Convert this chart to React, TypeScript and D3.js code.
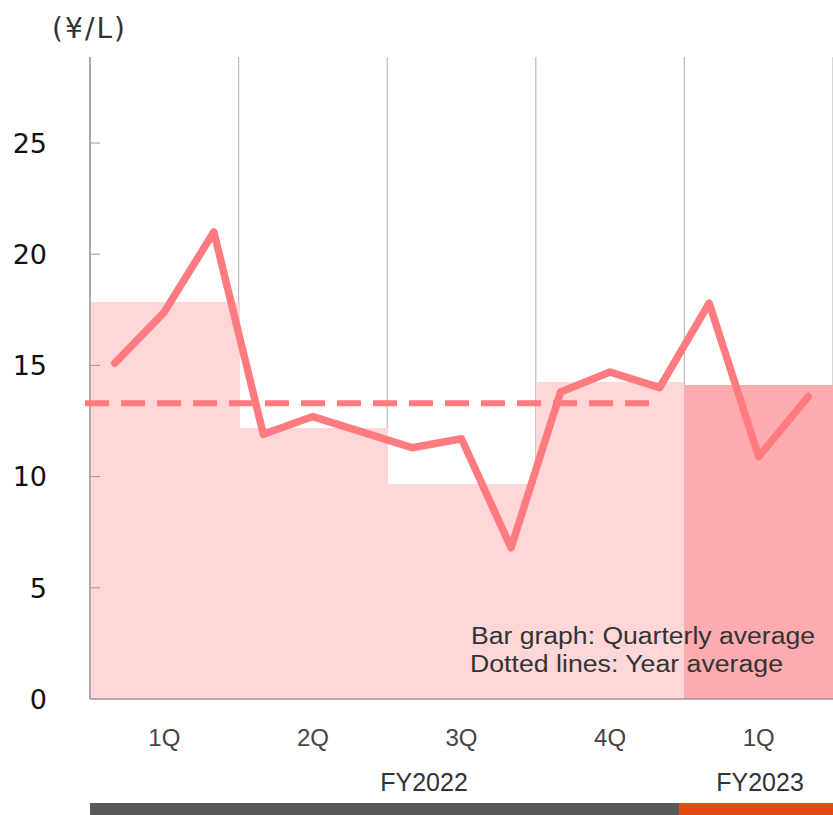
import React from 'react';
import * as d3 from 'd3';

// monthly values, FY2022 Apr .. FY2023 Jun
const monthly = [15.1, 17.4, 21.0, 11.9, 12.7, 12.0, 11.3, 11.7, 6.8, 13.8, 14.7, 14.0, 17.8, 10.9, 13.6];
const quarterLabels = ['1Q', '2Q', '3Q', '4Q', '1Q'];
const quarterAvg = [17.85, 12.2, 9.65, 14.25, 14.1];
const quarterYear = ['FY2022', 'FY2022', 'FY2022', 'FY2022', 'FY2023'];
const yearAvg = 13.3;
const yTicks = [0, 5, 10, 15, 20, 25];

const W = 833;
const H = 815;
const margin = { top: 57, left: 90, right: 0, bottom: 116 };

export default function App() {
  const x = d3.scaleLinear().domain([0, monthly.length]).range([margin.left, W - margin.right]);
  const y = d3.scaleLinear().domain([0, 25]).range([H - margin.bottom, 143]);
  const y0 = y(0);

  const line = d3
    .line<number>()
    .x((_, i) => x(i + 0.5))
    .y((d) => y(d));

  const lineColor = '#ff7b80';

  return (
    <svg width={W} height={H} style={{ position: 'absolute', left: 0, top: 0 }}>
      {/* quarter grid lines */}
      {d3.range(0, 6).map((q) => (
        <line key={'g' + q} x1={x(q * 3)} x2={x(q * 3)} y1={margin.top} y2={y0} stroke="#bbb" strokeWidth={1.2} />
      ))}
      {/* quarterly average bars */}
      {quarterAvg.map((v, q) => (
        <rect
          key={'b' + q}
          x={x(q * 3)}
          y={y(v)}
          width={x(q * 3 + 3) - x(q * 3) + (q < 3 ? 1 : 0)}
          height={y0 - y(v)}
          fill={quarterYear[q] === 'FY2023' ? '#ffacb0' : '#ffd7d9'}
          shapeRendering="crispEdges"
        />
      ))}
      {/* y axis */}
      <line x1={margin.left} x2={margin.left} y1={margin.top} y2={y0} stroke="#999" strokeWidth={1.5} />
      <line x1={margin.left} x2={W} y1={y0} y2={y0} stroke="#999" strokeWidth={1.5} />
      {yTicks.map((t) => (
        <g key={'t' + t}>
          {t > 0 && <line x1={margin.left} x2={margin.left + 10} y1={y(t)} y2={y(t)} stroke="#999" strokeWidth={1} />}
          <text x={47} y={y(t)} dy="0.36em" textAnchor="end" fontFamily="DejaVu Sans, Verdana" fontSize={27} fill="#111">
            {t}
          </text>
        </g>
      ))}
      <text x={52} y={38} fontFamily="DejaVu Sans, Verdana" fontSize={28} fill="#333" textLength={73} lengthAdjust="spacing">
        (¥/L)
      </text>
      {/* year average */}
      <line
        x1={85}
        x2={650}
        y1={y(yearAvg)}
        y2={y(yearAvg)}
        stroke={lineColor}
        strokeWidth={6}
        strokeDasharray="24 12"
      />
      {/* monthly line */}
      <path d={line(monthly) ?? ''} fill="none" stroke={lineColor} strokeWidth={7.5} strokeLinejoin="round" strokeLinecap="round" />
      {/* legend note */}
      <g fontFamily="Liberation Sans, Arial" fontSize={23} fill="#333">
        <text x={471} y={644} textLength={344} lengthAdjust="spacingAndGlyphs">Bar graph: Quarterly average</text>
        <text x={470} y={672} textLength={313} lengthAdjust="spacingAndGlyphs">Dotted lines: Year average</text>
      </g>
      {/* x labels */}
      {quarterLabels.map((l, q) => (
        <text
          key={'q' + q}
          x={x(q * 3 + 1.5)}
          y={737}
          dy="0.36em"
          textAnchor="middle"
          fontFamily="Liberation Sans, Arial"
          fontSize={24}
          fill="#444"
        >
          {l}
        </text>
      ))}
      <text x={424} y={782} dy="0.36em" textAnchor="middle" fontFamily="Liberation Sans, Arial" fontSize={25} fill="#333">
        FY2022
      </text>
      <text x={760} y={782} dy="0.36em" textAnchor="middle" fontFamily="Liberation Sans, Arial" fontSize={25} fill="#333">
        FY2023
      </text>
      <rect x={margin.left} y={803} width={679 - margin.left} height={12} fill="#585858" />
      <rect x={679} y={803} width={W - 679} height={12} fill="#e64a0f" />
    </svg>
  );
}
